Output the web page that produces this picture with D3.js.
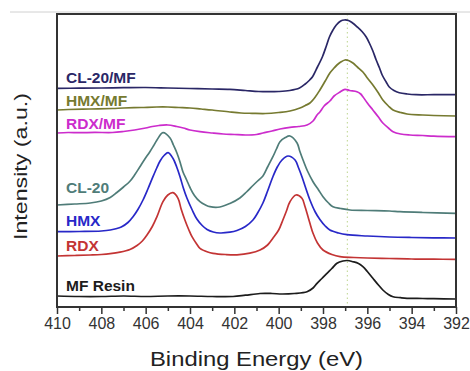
<!DOCTYPE html>
<html>
<head>
<meta charset="utf-8">
<script src="https://cdnjs.cloudflare.com/ajax/libs/d3/7.8.5/d3.min.js"></script>
<style>
  body { margin: 0; background: #fff; }
  svg { display: block; font-family: Arial, "Liberation Sans", sans-serif; }
</style>
</head>
<body>
<div id="chart"></div>
<script>
// ---- data (binding energy in eV, intensity in a.u. incl. vertical offset) ----
var majorTicks = [410, 408, 406, 404, 402, 400, 398, 396, 394, 392];
var minorTicks = [409, 407, 405, 403, 401, 399, 397, 395, 393];
var markerEnergy = 396.9;

var mfResin = [[410, 11], [409, 10.5], [408, 10.5], [407, 11], [406, 10.5], [405, 11], [404, 11],
  [403, 10.5], [402.06, 10.5], [401.5, 11.8], [400.84, 13.5], [400.3, 13.5], [399.85, 13], [399.3, 13.5],
  [398.72, 15.3], [398.45, 19], [398.27, 23.7], [398.05, 28.5], [397.82, 33.7], [397.6, 38.5],
  [397.37, 43.7], [397.1, 46], [396.9, 46.5], [396.65, 45.3], [396.4, 43.5], [396.2, 40.3],
  [396.0, 35.5], [395.75, 28.7], [395.5, 22], [395.3, 17], [395.05, 12.5], [394.84, 10.3],
  [394.5, 9.3], [394.21, 8.7], [393.5, 8.5], [393, 8.3], [392, 8]];

var rdx = [[410, 51], [409.2, 51.5], [408.5, 52], [408, 52.5], [407.6, 53.3], [407.16, 54.8], [406.71, 57.5],
  [406.39, 61.5], [406.15, 66], [405.94, 72], [405.7, 80.5], [405.49, 90.3], [405.22, 105.3], [405.0, 112],
  [404.77, 114.3], [404.54, 108.7], [404.4, 98], [404.23, 87], [404.05, 77], [403.91, 70.3], [403.7, 63],
  [403.55, 58.7], [403.2, 55], [402.96, 53.7], [402.4, 52.5], [401.88, 52.2], [401.3, 53.8], [400.84, 57],
  [400.5, 62], [400.26, 68.7], [400.0, 77], [399.81, 87], [399.65, 96], [399.49, 105.3], [399.22, 112],
  [398.95, 108.7], [398.82, 101], [398.72, 93.7], [398.58, 83], [398.45, 73.7], [398.25, 64], [398.0, 57],
  [397.6, 52.5], [397.23, 50.3], [396.6, 49.5], [396, 49], [395, 48.5], [394, 48], [393, 47.8], [392, 47.7]];

var hmx = [[410, 75.3], [409, 75.5], [408, 76], [407.6, 77], [407.1, 80], [406.8, 84.5], [406.57, 90.3],
  [406.35, 97.5], [406.12, 107], [405.9, 118], [405.67, 130.3], [405.5, 139], [405.35, 146], [405.15, 152],
  [404.99, 154.3], [404.77, 148.7], [404.6, 140], [404.45, 130.3], [404.3, 119], [404.14, 109], [403.9, 97],
  [403.69, 88], [403.45, 81.5], [403.23, 77.5], [402.95, 75], [402.65, 74], [402.2, 74.8], [401.88, 76.5],
  [401.5, 80.5], [401.16, 87], [400.95, 94], [400.71, 104], [400.5, 116], [400.26, 130.3], [400.05, 140.5],
  [399.85, 147], [399.58, 151], [399.26, 147], [399.1, 139], [398.95, 130.3], [398.78, 119], [398.59, 107],
  [398.35, 95], [398.14, 87.5], [397.9, 81], [397.69, 77], [397.3, 74], [396.92, 72.3], [396, 71], [395, 70],
  [394, 69.5], [393, 69.2], [392, 69]];

var cl20 = [[410, 102], [409.2, 103], [408.5, 104], [408, 106], [407.6, 109.5], [407.3, 114.5], [407.0, 120],
  [406.71, 125.8], [406.5, 132], [406.26, 140.3], [406.05, 147.5], [405.81, 155.3], [405.65, 161],
  [405.49, 167], [405.22, 174.3], [404.9, 169], [404.75, 162], [404.59, 154], [404.45, 145], [404.32, 135.3],
  [404.15, 127], [404.0, 119.5], [403.8, 111.5], [403.55, 105.3], [403.3, 102], [403.1, 100.3],
  [402.65, 100], [402.2, 103.5], [401.75, 109], [401.45, 115], [401.16, 121.5], [400.95, 126],
  [400.71, 131], [400.5, 140], [400.26, 150.3], [400.1, 158], [399.94, 165.3], [399.7, 169.5], [399.49, 171],
  [399.17, 164], [399.05, 156], [398.9, 147], [398.7, 136], [398.45, 125.3], [398.2, 117], [398.0, 110.3],
  [397.75, 104], [397.55, 100.3], [397.2, 98.5], [396.78, 97], [396, 96.5], [395, 96], [394.53, 95.3],
  [393.5, 94.5], [392, 93.7]];

var rdxMf = [[410, 174], [409.5, 174.5], [409, 174.3], [408.3, 174.6], [407.5, 174.5], [407, 175.5],
  [406.5, 177], [406.0, 179], [405.7, 180.5], [405.4, 181.5], [405.0, 182], [404.6, 180.5], [404.3, 179],
  [404.0, 177], [403.55, 175.3], [403.0, 174], [402.5, 173], [402.0, 172.5], [401.5, 172], [401.0, 172.5],
  [400.71, 174], [400.3, 176], [399.94, 178], [399.49, 179.7], [399.1, 180.5], [398.72, 182],
  [398.45, 186], [398.27, 192], [398.14, 195], [397.95, 201], [397.69, 206], [397.5, 211], [397.23, 215],
  [397.01, 217.7], [396.8, 216.5], [396.47, 215.3], [396.3, 213], [396.2, 210.3], [396.0, 204],
  [395.75, 197], [395.5, 190], [395.3, 184], [395.05, 179], [394.84, 175.3], [394.5, 173], [394.08, 172],
  [393.5, 171.5], [393, 170.8], [392, 170.3]];

var hmxMf = [[410, 197], [409.5, 197.5], [408.5, 198], [407.5, 198.5], [407, 199], [406.2, 199.5],
  [405.5, 200], [405, 200], [404.5, 199.5], [404, 199], [403.5, 198], [403, 197], [402.2, 195], [401.7, 194],
  [401.2, 193.7], [400.6, 193.5], [400, 194.5], [399.49, 196], [399.04, 199], [398.8, 201.5], [398.59, 204],
  [398.35, 210], [398.14, 217], [397.9, 226], [397.69, 234], [397.5, 239], [397.37, 242], [397.2, 245],
  [397.01, 247], [396.85, 246.5], [396.65, 244], [396.45, 240], [396.2, 235], [396.0, 229], [395.75, 222],
  [395.5, 214], [395.3, 207], [395.05, 201], [394.84, 197], [394.5, 194.5], [394.21, 193], [393.5, 192],
  [393, 191.5], [392, 191]];

var cl20Mf = [[410, 218.7], [409, 218.8], [408, 219], [407, 219.3], [406, 219.5], [405, 219], [404, 218.5],
  [403, 218], [402.2, 217.7], [401.5, 216.5], [400.9, 215.5], [400.5, 215.3], [400, 215.5], [399.5, 216.5],
  [399.06, 219], [398.8, 223], [398.6, 227], [398.48, 230], [398.25, 240], [398.03, 250], [397.85, 261],
  [397.71, 270], [397.55, 277], [397.4, 282], [397.2, 286], [397.04, 287], [396.85, 286.5], [396.68, 284.3],
  [396.45, 280], [396.23, 275.3], [396.05, 270], [395.91, 264], [395.75, 256], [395.6, 247], [395.45, 239],
  [395.33, 232], [395.15, 225], [395.01, 220], [394.8, 216.5], [394.56, 214.3], [394.2, 213], [393.8, 212.3],
  [393, 212.3], [392, 212.3]];

var seriesNames = ['MF Resin', 'RDX', 'HMX', 'CL-20', 'RDX/MF', 'HMX/MF', 'CL-20/MF'];
var seriesData = [mfResin, rdx, hmx, cl20, rdxMf, hmxMf, cl20Mf];
var seriesColors = ['#1c1c1c', '#c33434', '#2828c8', '#4f7c78', '#cc2ccc', '#767a30', '#2a2766'];
// label baselines given in intensity units
var labelLevels = [16, 56.5, 81, 114, 178, 201, 224];

// ---- layout ----
var W = 470, H = 371;
var margin = {left: 57, top: 14, right: 14, bottom: 64};
var pw = W - margin.left - margin.right;
var ph = H - margin.top - margin.bottom;

var svg = d3.select('#chart').append('svg')
  .attr('width', W)
  .attr('height', H);

// faint rule above the frame (from the source scan)
svg.append('line')
  .attr('x1', 10).attr('x2', W)
  .attr('y1', 12).attr('y2', 12)
  .style('stroke', '#d0d0d0')
  .style('stroke-width', 1);

var g = svg.append('g')
  .attr('transform', 'translate(' + margin.left + ',' + margin.top + ')');

var x = d3.scaleLinear().domain([410, 392]).range([0, pw]);
var y = d3.scaleLinear().domain([0, ph]).range([ph, 0]);

// dotted marker line
g.append('line')
  .attr('x1', x(markerEnergy)).attr('x2', x(markerEnergy))
  .attr('y1', 0).attr('y2', ph)
  .style('stroke', '#c8dca0')
  .style('stroke-width', 1.2)
  .style('stroke-dasharray', '1.5,3');

var line = d3.line()
  .x(function(d) { return x(d[0]); })
  .y(function(d) { return y(d[1]); })
  .curve(d3.curveCatmullRom.alpha(0.5));

g.selectAll('path.spec')
  .data(seriesData)
  .enter().append('path')
  .attr('class', 'spec')
  .attr('d', line)
  .style('fill', 'none')
  .style('stroke', function(d, i) { return seriesColors[i]; })
  .style('stroke-width', 1.7)
  .style('stroke-linejoin', 'round');

g.selectAll('text.lab')
  .data(seriesNames)
  .enter().append('text')
  .attr('class', 'lab')
  .attr('x', 9)
  .attr('y', function(d, i) { return y(labelLevels[i]); })
  .text(function(d) { return d; })
  .style('fill', function(d, i) { return seriesColors[i]; })
  .style('font-size', '15.5px')
  .style('font-weight', 'bold');

// x axis, major + minor ticks
var xAxis = g.append('g')
  .attr('transform', 'translate(0,' + ph + ')')
  .call(d3.axisBottom(x).tickValues(majorTicks).tickSize(7).tickPadding(4).tickFormat(d3.format('d')));
xAxis.select('.domain').remove();
xAxis.selectAll('line').style('stroke', '#333').style('stroke-width', 1.5);
xAxis.selectAll('text')
  .style('font-size', '16px')
  .style('fill', '#333')
  .style('font-family', 'Arial, "Liberation Sans", sans-serif');

var xMinor = g.append('g')
  .attr('transform', 'translate(0,' + ph + ')')
  .call(d3.axisBottom(x).tickValues(minorTicks).tickSize(4).tickFormat(''));
xMinor.select('.domain').remove();
xMinor.selectAll('line').style('stroke', '#333').style('stroke-width', 1.5);

// frame
g.append('rect')
  .attr('x', 0).attr('y', 0)
  .attr('width', pw).attr('height', ph)
  .style('fill', 'none')
  .style('stroke', '#333')
  .style('stroke-width', 2);

// axis titles
svg.append('text')
  .attr('x', 256.5)
  .attr('y', 366)
  .attr('text-anchor', 'middle')
  .attr('textLength', 213)
  .attr('lengthAdjust', 'spacingAndGlyphs')
  .style('font-size', '21px')
  .style('fill', '#222')
  .text('Binding Energy (eV)');

svg.append('text')
  .attr('transform', 'translate(27,166.5) rotate(-90)')
  .attr('text-anchor', 'middle')
  .attr('textLength', 147)
  .attr('lengthAdjust', 'spacingAndGlyphs')
  .style('font-size', '19px')
  .style('fill', '#222')
  .text('Intensity (a.u.)');
</script>
</body>
</html>
